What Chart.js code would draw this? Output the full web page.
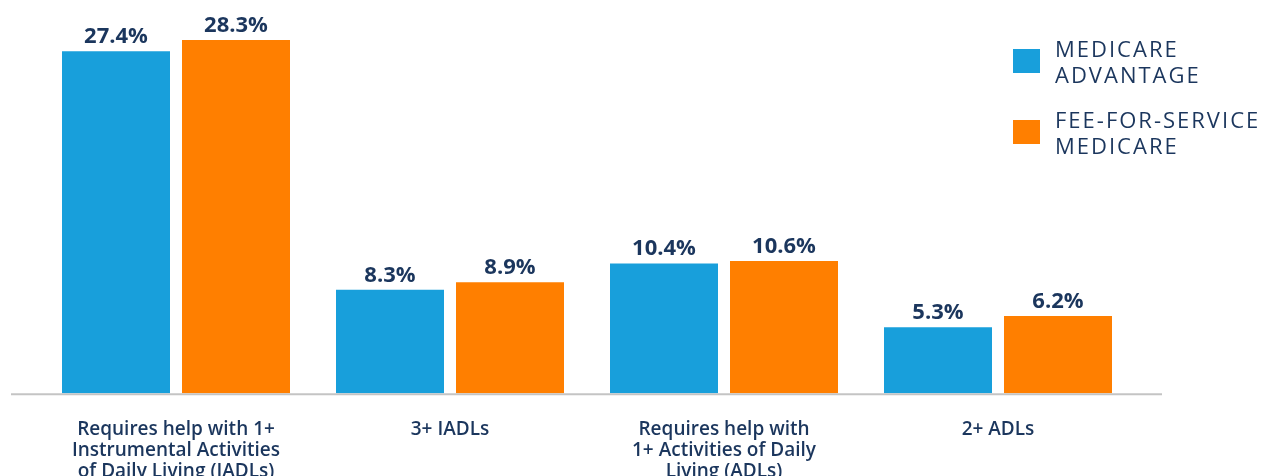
<!DOCTYPE html>
<html lang="en">
<head>
	<meta charset="UTF-8">
	<title>MA vs FFS functional limitations</title>
	<script src="https://cdn.jsdelivr.net/npm/chart.js"></script>
	<style>
		html, body { margin: 0; padding: 0; background: #fff; overflow: hidden; }
		#wrap { position: relative; width: 1264px; height: 476px; overflow: hidden; }
		#box { position: absolute; left: 0; top: 0; width: 1264px; height: 508px; }
		#legend { position: absolute; left: 1013px; top: 35px; font-family: "Open Sans", sans-serif; color: #1b365d; }
		.item { display: flex; align-items: center; margin-bottom: 19px; }
		.sw { width: 27px; height: 24px; margin-right: 15px; flex: none; }
		.txt { font-size: 22px; line-height: 26px; letter-spacing: 2px; }
	</style>
</head>
<body>
	<div id="wrap">
		<div id="box"><canvas id="bar-chart"></canvas></div>
		<div id="legend"></div>
	</div>

	<script>
		// data
		const categories = [
			['Requires help with 1+', 'Instrumental Activities', 'of Daily Living (IADLs)'],
			['3+ IADLs'],
			['Requires help with', '1+ Activities of Daily', 'Living (ADLs)'],
			['2+ ADLs']
		];
		const seriesNames = [['MEDICARE', 'ADVANTAGE'], ['FEE-FOR-SERVICE', 'MEDICARE']];
		const maValues = [27.4, 8.3, 10.4, 5.3];
		const ffsValues = [28.3, 8.9, 10.6, 6.2];
		const colors = ['#189fdb', '#ff7f00'];
		const navy = '#1b365d';

		// value labels on top of bars
		const valueLabels = {
			id: 'valueLabels',
			afterDatasetsDraw(chart) {
				const ctx = chart.ctx;
				ctx.save();
				ctx.font = 'bold 22px "Open Sans", sans-serif';
				ctx.fillStyle = navy;
				ctx.textAlign = 'center';
				ctx.textBaseline = 'alphabetic';
				chart.data.datasets.forEach((ds, i) => {
					chart.getDatasetMeta(i).data.forEach((bar, j) => {
						ctx.fillText(ds.data[j].toFixed(1) + '%', bar.x, bar.y - 8);
					});
				});
				ctx.restore();
			}
		};

		// grey baseline, runs a bit past the plot area
		const baseLine = {
			id: 'baseLine',
			beforeDatasetsDraw(chart) {
				const ctx = chart.ctx;
				const y = chart.scales.y.getPixelForValue(0);
				ctx.save();
				ctx.strokeStyle = '#c4c4c4';
				ctx.lineWidth = 2;
				ctx.beginPath();
				ctx.moveTo(11, y + 1);
				ctx.lineTo(1162, y + 1);
				ctx.stroke();
				ctx.restore();
			}
		};

		const chart = new Chart(document.getElementById('bar-chart'), {
			type: 'bar',
			data: {
				labels: categories,
				datasets: [
					{ label: seriesNames[0].join(' '), data: maValues, backgroundColor: colors[0] },
					{ label: seriesNames[1].join(' '), data: ffsValues, backgroundColor: colors[1] }
				]
			},
			options: {
				responsive: true,
				maintainAspectRatio: false,
				animation: false,
				categoryPercentage: 240 / 274,
				barPercentage: 0.9,
				layout: { padding: { left: 39, right: 129, top: 10, bottom: 0 } },
				plugins: { legend: { display: false }, tooltip: { enabled: false } },
				scales: {
					x: {
						grid: { display: false, drawTicks: false },
						border: { display: false },
						ticks: {
							color: navy,
							padding: 26,
							maxRotation: 0,
							autoSkip: false,
							font: { family: '"Open Sans", sans-serif', size: 19, weight: '600', lineHeight: 1.1 }
						}
					},
					y: {
						display: false,
						min: 0,
						max: 30.7
					}
				}
			},
			plugins: [baseLine, valueLabels]
		});

		// html legend, two-line names
		const legend = document.getElementById('legend');
		seriesNames.forEach((name, i) => {
			const item = document.createElement('div');
			item.className = 'item';
			item.innerHTML = '<div class="sw" style="background:' + colors[i] + '"></div><div class="txt">' + name.join('<br>') + '</div>';
			legend.appendChild(item);
		});
	</script>
</body>
</html>
